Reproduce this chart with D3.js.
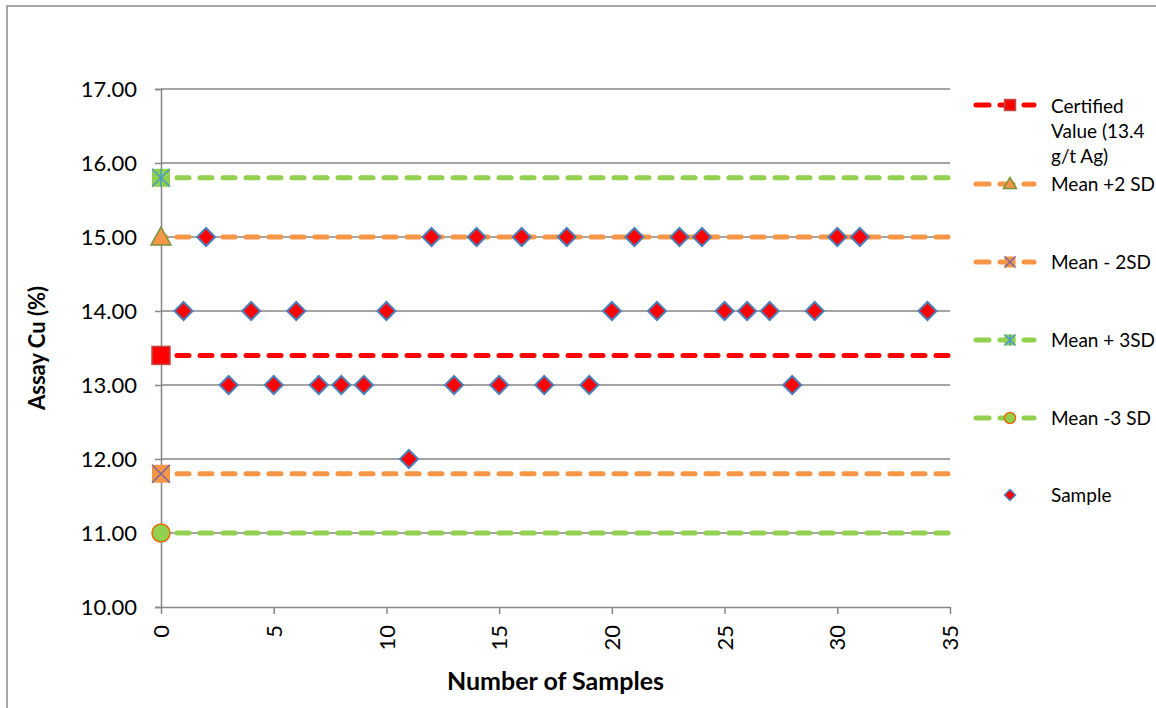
<!DOCTYPE html>
<html>
<head>
<meta charset="utf-8">
<script src="https://cdn.jsdelivr.net/npm/d3@7"></script>
<style>
  html, body { margin: 0; padding: 0; background: #fff; }
  svg { display: block; }
  text { font-family: Lato, "Open Sans", "Liberation Sans", sans-serif; fill: #000; }
</style>
</head>
<body>
<svg id="chart" width="1156" height="708"></svg>
<script>
// Sample assays (sample number, Cu %)
const sampleNo = [1, 2, 3, 4, 5, 6, 7, 8, 9, 10, 11, 12, 13, 14, 15, 16, 17, 18, 19, 20,
                  21, 22, 23, 24, 25, 26, 27, 28, 29, 30, 31, 34];
const sampleCu = [14, 15, 13, 14, 13, 14, 13, 13, 13, 14, 12, 15, 13, 15, 13, 15, 13, 15, 13, 14,
                  15, 14, 15, 15, 14, 14, 14, 13, 14, 15, 15, 14];

// Control limits
const limitNames  = ["Certified Value (13.4 g/t Ag)", "Mean +2 SD", "Mean - 2SD", "Mean + 3SD", "Mean -3 SD"];
const limitValues = [13.4, 15.0, 11.8, 15.8, 11.0];
const limitStart  = 0;
const limitEnd    = 35;

// Axis ticks
const xTicks = [0, 5, 10, 15, 20, 25, 30, 35];
const yTicks = [10, 11, 12, 13, 14, 15, 16, 17];

const svg = d3.select("#chart");
const W = 1156, H = 708;

// outer chart frame
svg.append("rect").attr("x", 7).attr("y", 6).attr("width", W).attr("height", H)
  .attr("fill", "#fff").attr("stroke", "#8c8c8c").attr("stroke-width", 1.5);

const plotL = 161, plotR = 950, plotT = 89, plotB = 607;
const x = d3.scaleLinear().domain([0, 35]).range([plotL, plotR]);
const y = d3.scaleLinear().domain([10, 17]).range([plotB, plotT]);

const gridColor = "#868686";

// horizontal gridlines
svg.append("g").selectAll("line").data(yTicks.filter(d => d > 10)).join("line")
  .attr("x1", plotL).attr("x2", plotR)
  .attr("y1", d => y(d)).attr("y2", d => y(d))
  .attr("stroke", gridColor).attr("stroke-width", 1.5);

// y axis
const yAxis = svg.append("g").attr("transform", `translate(${plotL},0)`)
  .call(d3.axisLeft(y).tickValues(yTicks).tickFormat(d3.format(".2f")).tickSize(6).tickPadding(18));
yAxis.select(".domain").attr("stroke", gridColor).attr("stroke-width", 1.5);
yAxis.selectAll(".tick line").attr("stroke", gridColor).attr("stroke-width", 1.5);
yAxis.selectAll(".tick text").style("font-size", "22px").attr("fill", "#000")
  .style("font-family", "Lato, 'Open Sans', sans-serif");

// x axis
const xAxis = svg.append("g").attr("transform", `translate(0,${plotB})`)
  .call(d3.axisBottom(x).tickValues(xTicks).tickSize(7).tickSizeOuter(0));
xAxis.select(".domain").attr("stroke", gridColor).attr("stroke-width", 1.5);
xAxis.selectAll(".tick line").attr("stroke", gridColor).attr("stroke-width", 1.5);
xAxis.selectAll(".tick text")
  .attr("transform", "rotate(-90)")
  .attr("x", -18).attr("y", 0).attr("dy", "0.35em")
  .attr("text-anchor", "end")
  .style("font-size", "22px").attr("fill", "#000")
  .style("font-family", "Lato, 'Open Sans', sans-serif");

// axis titles
svg.append("text").attr("transform", `translate(45,${(plotT + plotB) / 2}) rotate(-90)`)
  .attr("text-anchor", "middle").style("font-size", "22px").style("font-weight", "bold")
  .text("Assay Cu (%)");
svg.append("text").attr("x", (plotL + plotR) / 2).attr("y", 690)
  .attr("text-anchor", "middle").style("font-size", "25px").style("font-weight", "bold")
  .text("Number of Samples");

// limit series styling
const lineColor = ["#ff0000", "#f79646", "#f79646", "#92d050", "#92d050"];
const dash = "12 11";

// marker drawn at (cx, cy) with half-size s
function drawMarker(g, i, cx, cy, s) {
  if (i === 0) {
    g.append("rect").attr("x", cx - s).attr("y", cy - s).attr("width", 2 * s).attr("height", 2 * s)
      .attr("fill", "#ff0000").attr("stroke", "#be4b48").attr("stroke-width", 1.5);
  } else if (i === 1) {
    g.append("path").attr("d", `M${cx},${cy - s - 1} L${cx + s + 1},${cy + s - 1} L${cx - s - 1},${cy + s - 1} Z`)
      .attr("fill", "#f79646").attr("stroke", "#77933c").attr("stroke-width", 1.5);
  } else if (i === 2) {
    g.append("rect").attr("x", cx - s).attr("y", cy - s).attr("width", 2 * s).attr("height", 2 * s)
      .attr("fill", "#f79646");
    g.append("path").attr("d", `M${cx - s},${cy - s} L${cx + s},${cy + s} M${cx + s},${cy - s} L${cx - s},${cy + s}`)
      .attr("stroke", "#7f65a2").attr("stroke-width", 1.5);
  } else if (i === 3) {
    g.append("rect").attr("x", cx - s).attr("y", cy - s).attr("width", 2 * s).attr("height", 2 * s)
      .attr("fill", "#92d050");
    g.append("path").attr("d", `M${cx - s},${cy - s} L${cx + s},${cy + s} M${cx + s},${cy - s} L${cx - s},${cy + s} M${cx},${cy - s} L${cx},${cy + s}`)
      .attr("stroke", "#4a9bc8").attr("stroke-width", 1.5);
  } else {
    g.append("circle").attr("cx", cx).attr("cy", cy).attr("r", s)
      .attr("fill", "#92d050").attr("stroke", "#e46c0a").attr("stroke-width", 1.5);
  }
}

const lineGen = d3.line().x(d => x(d[0])).y(d => y(d[1]));
const limits = svg.append("g");
limitValues.forEach((v, i) => {
  limits.append("path")
    .attr("d", lineGen([[limitStart, v], [limitEnd, v]]))
    .attr("fill", "none").attr("stroke", lineColor[i]).attr("stroke-width", 5)
    .attr("stroke-linecap", "round").attr("stroke-dasharray", dash)
    .attr("stroke-dashoffset", -16);
});
limitValues.forEach((v, i) => drawMarker(limits, i, x(limitStart), y(v), 9));

// sample diamonds
const diamond = (cx, cy, r) => `M${cx},${cy - r} L${cx + r},${cy} L${cx},${cy + r} L${cx - r},${cy} Z`;
svg.append("g").selectAll("path").data(sampleNo.map((n, i) => [n, sampleCu[i]])).join("path")
  .attr("d", d => diamond(x(d[0]), y(d[1]), 9))
  .attr("fill", "#ff0000").attr("stroke", "#4a7ebb").attr("stroke-width", 2);

// legend
const legendRows = [105, 184, 262, 340, 418];
const legend = svg.append("g");
limitNames.forEach((name, i) => {
  const ly = legendRows[i];
  legend.append("line").attr("x1", 976).attr("x2", 1034).attr("y1", ly).attr("y2", ly)
    .attr("stroke", lineColor[i]).attr("stroke-width", 5).attr("stroke-linecap", "round")
    .attr("stroke-dasharray", "13 11");
  drawMarker(legend, i, 1010, ly, 5.5);
});
// wrapped certified-value label
const certLines = ["Certified", "Value (13.4", "g/t Ag)"];
certLines.forEach((t, k) => {
  legend.append("text").attr("x", 1051).attr("y", 113 + k * 25).style("font-size", "19px").text(t);
});
limitNames.slice(1).forEach((name, k) => {
  legend.append("text").attr("x", 1051).attr("y", legendRows[k + 1] + 7).style("font-size", "19px").text(name);
});
legend.append("path").attr("d", diamond(1010, 495, 5.5))
  .attr("fill", "#ff0000").attr("stroke", "#4a7ebb").attr("stroke-width", 1.5);
legend.append("text").attr("x", 1051).attr("y", 502).style("font-size", "19px").text("Sample");
</script>
</body>
</html>
